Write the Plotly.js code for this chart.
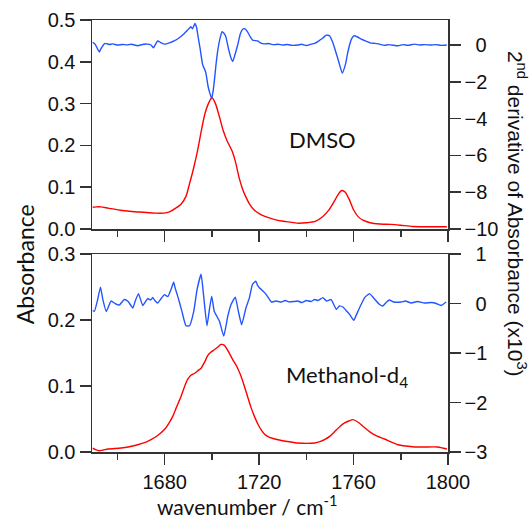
<!DOCTYPE html>
<html>
<head>
<meta charset="utf-8">
<script src="https://cdn.plot.ly/plotly-3.0.1.min.js"></script>
<style>html,body{margin:0;padding:0;background:#fff;}#chart{width:529px;height:521px;}</style>
</head>
<body>
<div id="chart"></div>
<script>
// ---- DMSO: absorbance ----
const dmsoWn = [1649.5,1651,1653,1656,1661,1666,1671,1676,1679.5,1682,1685,1687,1689,1690.6,1692,1694,1695.5,1697,1698.5,1700,1701.5,1703,1704.7,1706.5,1708.5,1710,1711.6,1713,1714.5,1716,1718,1720,1723,1727,1731,1736,1740,1744,1747,1749.5,1751.5,1753.5,1755,1756.5,1758.3,1760,1762,1764,1767,1771,1776,1780,1785,1790,1795,1799.5];
const dmsoAbs = [0.052,0.053,0.053,0.050,0.045,0.042,0.040,0.038,0.038,0.041,0.051,0.060,0.078,0.110,0.140,0.190,0.235,0.275,0.300,0.314,0.300,0.272,0.237,0.210,0.187,0.160,0.121,0.095,0.075,0.059,0.045,0.037,0.029,0.022,0.018,0.014,0.015,0.019,0.030,0.045,0.063,0.083,0.092,0.088,0.069,0.046,0.029,0.021,0.015,0.012,0.011,0.009,0.006,0.0055,0.0055,0.0055];
// ---- DMSO: 2nd derivative (x10^3) ----
const dmsoDWn = [1649.5,1650.5,1651.5,1652.3,1653.2,1654.7,1656.5,1658,1660,1662,1664,1666,1668.6,1670.5,1672.5,1674.2,1675.2,1677,1678.5,1680,1682,1684,1686,1688.3,1690,1691.1,1691.8,1692.8,1693.5,1694.2,1695,1696.1,1697,1697.5,1698.3,1698.9,1699.9,1700.5,1701,1701.7,1702.4,1703.5,1704.3,1705,1705.9,1707,1708.2,1708.8,1709.6,1710.9,1712,1713,1714,1715.1,1716.2,1717.2,1719.4,1720.5,1722.2,1724,1726,1728,1730,1732,1734,1736.4,1738,1740,1742,1743.5,1745,1747,1748.4,1749.8,1751,1752,1753,1754.1,1755.2,1756.5,1757.4,1758.3,1759.2,1760.1,1761.5,1763.3,1765,1767,1768.9,1771,1773,1775,1778.8,1781,1783,1785.8,1788,1790,1792.9,1795,1797,1799.5];
const dmsoDer = [0.15,0.05,-0.2,-0.38,-0.15,0.09,0.03,0.06,0.0,0.03,0.01,0.04,-0.04,0.03,0.05,0.0,-0.15,0.22,0.12,0.05,0.12,0.22,0.38,0.63,0.85,0.99,0.88,1.17,0.95,0.4,-0.2,-1.08,-1.35,-1.55,-2.2,-2.52,-2.92,-2.5,-1.98,-1.1,-0.36,0.4,0.72,0.65,0.45,-0.2,-0.75,-0.9,-0.6,0.0,0.6,0.86,0.88,0.72,0.45,0.27,0.22,0.12,0.06,0.08,0.02,0.04,0.0,0.03,-0.02,0.0,0.04,-0.03,0.05,0.09,0.2,0.38,0.54,0.5,0.2,-0.18,-0.6,-1.08,-1.53,-1.08,-0.5,0.0,0.35,0.5,0.45,0.32,0.22,0.12,0.09,0.05,-0.02,0.02,-0.04,0.02,-0.02,0.05,0.0,0.02,0.0,0.02,-0.02,0.0];
// ---- Methanol-d4: absorbance ----
const methWn = [1649.5,1650.5,1652.3,1654,1656,1661.5,1665,1668.6,1672,1674.2,1677,1679.9,1682,1683.4,1685,1686.9,1688.5,1689.7,1691,1692.6,1694,1695.4,1697,1698.2,1699.5,1701,1702.5,1703.8,1705.3,1707,1708.8,1710.5,1712.3,1713.7,1715.1,1716.5,1718,1719.5,1720.8,1722.3,1724,1728,1732,1736.4,1740,1743.5,1746,1747.7,1750,1752,1754,1756.2,1758,1759.7,1761.8,1764,1766,1767.5,1770,1773.1,1776,1778.8,1782,1785.8,1790,1795.6,1799.5];
const methAbs = [0.006,0.004,0.002,0.003,0.0045,0.006,0.008,0.011,0.015,0.0186,0.025,0.034,0.045,0.054,0.068,0.084,0.100,0.110,0.116,0.119,0.123,0.127,0.137,0.146,0.151,0.155,0.159,0.163,0.1615,0.152,0.140,0.130,0.115,0.100,0.084,0.068,0.054,0.042,0.034,0.027,0.023,0.0186,0.016,0.0136,0.013,0.0136,0.016,0.0186,0.024,0.031,0.038,0.044,0.047,0.049,0.0455,0.039,0.033,0.029,0.024,0.0197,0.015,0.011,0.009,0.0076,0.0076,0.0076,0.0045];
// ---- Methanol-d4: 2nd derivative (x10^3) ----
const methDWn = [1649.5,1650.2,1651.6,1652.8,1653.8,1655.2,1657.3,1659,1660.8,1662.9,1664.5,1666.5,1667.5,1668.9,1670.7,1672.8,1674,1674.9,1676,1677,1678.5,1679.9,1681.3,1682.8,1683.8,1684.5,1685.5,1687.3,1689,1690.5,1692.3,1693.7,1695.4,1696.5,1697.9,1699,1699.9,1701,1702,1703.2,1705,1706.7,1708.1,1709.9,1711.2,1712.6,1714.4,1715.9,1717.2,1718.6,1719.4,1720.1,1722.3,1723.6,1725.2,1727,1729.4,1731,1733,1736.4,1738,1740,1742,1743.5,1745,1747,1748.5,1750.5,1752.7,1754,1755.5,1757,1758.3,1760.1,1761,1762.5,1764.7,1766.8,1768,1769.6,1771,1772.4,1774,1775.2,1777,1780.2,1782,1784.4,1787,1790.1,1793,1795,1797.1,1799.2];
const methDer = [-0.14,-0.16,0.08,0.33,0.08,-0.16,0.05,0.0,-0.03,0.08,0.04,-0.09,0.05,0.2,-0.04,0.1,0.07,0.12,0.05,0.01,0.1,0.18,0.14,0.3,0.43,0.3,0.15,-0.16,-0.45,-0.45,-0.16,0.28,0.59,0.15,-0.45,-0.1,0.15,-0.16,-0.25,-0.36,-0.66,-0.26,-0.02,0.13,-0.16,-0.43,-0.09,0.12,0.39,0.45,0.36,0.32,0.22,0.14,0.03,0.05,0.03,0.06,0.03,0.05,0.02,0.06,0.04,0.08,0.06,0.12,0.05,0.08,-0.12,-0.05,-0.07,-0.15,-0.22,-0.34,-0.25,-0.09,0.12,0.2,0.14,0.05,-0.02,-0.05,0.03,0.07,0.03,0.03,0.05,0.01,0.04,0.01,0.02,0.0,-0.04,0.03];

// ---- ticks and labels ----
const xTickVals = [1680,1720,1760,1800];
const topAbsTicks = [0,0.1,0.2,0.3,0.4,0.5];
const topDerTicks = [0,-2,-4,-6,-8,-10];
const topDerText = ['\u20070','\u22122','\u22124','\u22126','\u22128','\u221210'];
const botAbsTicks = [0,0.1,0.2,0.3];
const botDerTicks = [1,0,-1,-2,-3];
const botDerText = ['\u20071','\u20070','\u22121','\u22122','\u22123'];
const labelTop = 'DMSO';
const labelBot = 'Methanol-d<sub>4</sub>';

const BLUE = 'rgb(35,85,255)';
const RED = 'rgb(255,0,0)';
const AX = '#333333';
const tickFont = {family: '"Liberation Sans Narrow", "Arial Narrow", "Liberation Sans", Arial, sans-serif', size: 20, color: '#111'};
const txtFont = 'Lato, "Open Sans", sans-serif';

const traces = [
  {x: dmsoWn, y: dmsoAbs, xaxis: 'x2', yaxis: 'y3', mode: 'lines', line: {color: RED, width: 1.4, shape: 'spline', smoothing: 0.6}},
  {x: dmsoDWn, y: dmsoDer, xaxis: 'x2', yaxis: 'y4', mode: 'lines', line: {color: BLUE, width: 1.4, shape: 'spline', smoothing: 0.4}},
  {x: methWn, y: methAbs, xaxis: 'x', yaxis: 'y', mode: 'lines', line: {color: RED, width: 1.4, shape: 'spline', smoothing: 0.6}},
  {x: methDWn, y: methDer, xaxis: 'x', yaxis: 'y2', mode: 'lines', line: {color: BLUE, width: 1.4, shape: 'spline', smoothing: 0.4}}
];

const xCommon = {
  range: [1649.2, 1800], tickmode: 'array', tickvals: xTickVals,
  ticks: 'outside', ticklen: 11, tickwidth: 1.5, tickcolor: AX,
  minor: {tick0: 1660, dtick: 20, ticks: 'outside', ticklen: 6, tickwidth: 1.5, tickcolor: AX},
  showline: true, linecolor: AX, linewidth: 1.5, mirror: true,
  showgrid: false, zeroline: false, tickfont: tickFont
};
const yCommon = {
  ticks: 'outside', ticklen: 11, tickwidth: 1.5, tickcolor: AX,
  showline: true, linecolor: AX, linewidth: 1.5,
  showgrid: false, zeroline: false, tickfont: tickFont, fixedrange: true
};

const layout = {
  width: 529, height: 521,
  margin: {l: 92, r: 81, t: 20, b: 69},
  paper_bgcolor: '#fff', plot_bgcolor: '#fff',
  showlegend: false,
  xaxis: Object.assign({}, xCommon, {anchor: 'y', domain: [0, 1]}),
  xaxis2: Object.assign({}, xCommon, {anchor: 'y3', domain: [0, 1], matches: 'x', showticklabels: false}),
  yaxis: Object.assign({}, yCommon, {domain: [0, 0.4583], range: [0, 0.3], tickvals: botAbsTicks, tickformat: '.1f', side: 'left', anchor: 'x'}),
  yaxis2: Object.assign({}, yCommon, {overlaying: 'y', side: 'right', anchor: 'x', range: [-3, 1], tickvals: botDerTicks, ticktext: botDerText}),
  yaxis3: Object.assign({}, yCommon, {domain: [0.5162, 1], range: [0, 0.5], tickvals: topAbsTicks, tickformat: '.1f', side: 'left', anchor: 'x2'}),
  yaxis4: Object.assign({}, yCommon, {overlaying: 'y3', side: 'right', anchor: 'x2', range: [-10, 1.36], tickvals: topDerTicks, ticktext: topDerText}),
  annotations: [
    {text: labelTop, xref: 'x2', yref: 'y3', x: 1746.9, y: 0.213, showarrow: false, font: {family: txtFont, size: 22, color: '#111'}, xanchor: 'center', yanchor: 'middle'},
    {text: labelBot, xref: 'x', yref: 'y', x: 1757.2, y: 0.115, showarrow: false, font: {family: txtFont, size: 22, color: '#111'}, xanchor: 'center', yanchor: 'middle'},
    {text: 'Absorbance', xref: 'paper', yref: 'paper', x: -0.188, y: 0.435, textangle: -90, showarrow: false, font: {family: txtFont, size: 23, color: '#111'}, xanchor: 'center', yanchor: 'middle'},
    {text: '2<sup>nd</sup> derivative of Absorbance (x10<sup>3</sup>)', xref: 'paper', yref: 'paper', x: 1.194, y: 0.551, textangle: 90, showarrow: false, font: {family: '"Liberation Sans", Arial, sans-serif', size: 21, color: '#111'}, xanchor: 'center', yanchor: 'middle'},
    {text: 'wavenumber / cm<sup>-1</sup>', xref: 'paper', yref: 'paper', x: 0.438, y: -0.158, showarrow: false, font: {family: txtFont, size: 21, color: '#111'}, xanchor: 'center', yanchor: 'bottom', borderpad: 0}
  ]
};

Plotly.newPlot('chart', traces, layout, {displayModeBar: false, staticPlot: true});
</script>
</body>
</html>
